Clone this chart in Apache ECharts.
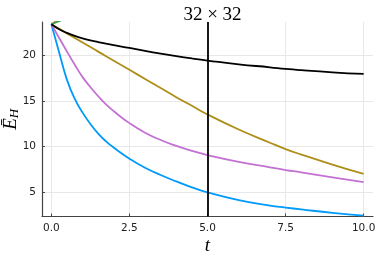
<!DOCTYPE html>
<html><head><meta charset="utf-8">
<script src="https://cdn.jsdelivr.net/npm/echarts@6/dist/echarts.min.js"></script>
<style>html,body{margin:0;padding:0;background:#fff}#c{width:381px;height:254px}</style>
</head><body><div id="c"></div>
<script>
const tVals   = [0, 0.25, 0.5, 0.75, 1, 1.25, 1.5, 1.75, 2, 2.5, 3, 3.5, 4, 4.5, 5, 6, 7, 7.5, 8, 9, 10];
const blue    = [23.4, 20.3, 17.3, 15.2, 13.7, 12.45, 11.4, 10.55, 9.85, 8.65, 7.65, 6.85, 6.15, 5.5, 4.95, 4.1, 3.5, 3.28, 3.08, 2.7, 2.4];
const purple  = [23.4, 21.9, 20.4, 18.95, 17.6, 16.5, 15.5, 14.6, 13.85, 12.55, 11.5, 10.7, 10.05, 9.5, 9.05, 8.3, 7.7, 7.4, 7.15, 6.6, 6.08];
const gold    = [23.4, 22.9, 22.4, 21.9, 21.4, 20.9, 20.4, 19.9, 19.4, 18.4, 17.4, 16.4, 15.4, 14.45, 13.5, 11.85, 10.4, 9.7, 9.1, 8.0, 6.97];
const black   = [23.4, 22.85, 22.45, 22.12, 21.85, 21.63, 21.45, 21.27, 21.1, 20.8, 20.47, 20.17, 19.9, 19.65, 19.42, 19.0, 18.68, 18.5, 18.36, 18.13, 17.95];
const orangeT = [0, 0.25, 0.5, 1];
const orange  = [23.4, 23.95, 24.5, 26.0];
const greenT  = [0, 0.25, 0.5, 1];
const green   = [23.4, 23.75, 24.1, 25.0];
const xTicks  = [0, 2.5, 5, 7.5, 10];
const yTicks  = [5, 10, 15, 20];
const vLineT  = 5;
const titleText = '32 × 32';

const pairs = (xs, ys) => xs.map((x, i) => [x, ys[i]]);
const mk = (name, xs, ys, color, z) => ({
  name, type: 'line', data: pairs(xs, ys), showSymbol: false, smooth: 0.5,
  lineStyle: {color, width: 1.8}, itemStyle: {color}, z, clip: true, animation: false
});

const chart = echarts.init(document.getElementById('c'), null, {renderer: 'canvas'});
const series = [
  mk('blue', tVals, blue, '#009AFA', 2),
  mk('orange', orangeT, orange, '#E26F46', 2),
  mk('green', greenT, green, '#3DA44D', 2),
  mk('purple', tVals, purple, '#C371D2', 2),
  mk('gold', tVals, gold, '#AC8E18', 2),
  mk('black', tVals, black, '#000000', 3)
];
series[5].markLine = {
  silent: true, symbol: 'none', label: {show: false},
  lineStyle: {color: '#000', width: 1.8, type: 'solid'},
  data: [{xAxis: vLineT}], animation: false
};
chart.setOption({
  animation: false,
  backgroundColor: '#fff',
  title: {
    text: titleText, left: 207.5, top: 1, textAlign: 'center',
    textStyle: {fontFamily: 'Liberation Serif', fontSize: 19, fontWeight: 'normal', color: '#000'}
  },
  grid: {left: 42, right: 8, top: 22, bottom: 37.5, containLabel: false, outerBoundsMode: 'none'},
  xAxis: {
    type: 'value', min: -0.3, max: 10.3,
    name: 't', nameLocation: 'middle', nameGap: 20, nameMoveOverlap: false,
    nameTextStyle: {fontFamily: 'Liberation Serif', fontStyle: 'italic', fontSize: 19, color: '#000'},
    axisLine: {show: true, onZero: false, lineStyle: {color: '#444', width: 1.2}},
    axisTick: {show: true, inside: true, length: 3, customValues: xTicks, lineStyle: {color: '#444'}},
    axisLabel: {customValues: xTicks, formatter: v => v.toFixed(1), fontFamily: 'DejaVu Sans', fontSize: 10.5, color: '#222', margin: 6},
    splitLine: {show: true, lineStyle: {color: '#e8e8e8', width: 1}}
  },
  yAxis: {
    type: 'value', min: 2.3, max: 23.65,
    name: '{e|Ē}{h|H}', nameLocation: 'middle', nameGap: 19, nameRotate: 90, nameMoveOverlap: false,
    nameTextStyle: {
      rich: {
        e: {fontFamily: 'Liberation Serif', fontStyle: 'italic', fontSize: 19, lineHeight: 24, color: '#000'},
        h: {fontFamily: 'Liberation Serif', fontStyle: 'italic', fontSize: 13, lineHeight: 24, color: '#000', padding: [8, 0, 0, 0]}
      }
    },
    axisLine: {show: true, onZero: false, lineStyle: {color: '#444', width: 1.2}},
    axisTick: {show: true, inside: true, length: 3, customValues: yTicks, lineStyle: {color: '#444'}},
    axisLabel: {customValues: yTicks, fontFamily: 'DejaVu Sans', fontSize: 10.5, color: '#222', margin: 6},
    splitLine: {show: true, lineStyle: {color: '#e8e8e8', width: 1}}
  },
  series
});
</script></body></html>
